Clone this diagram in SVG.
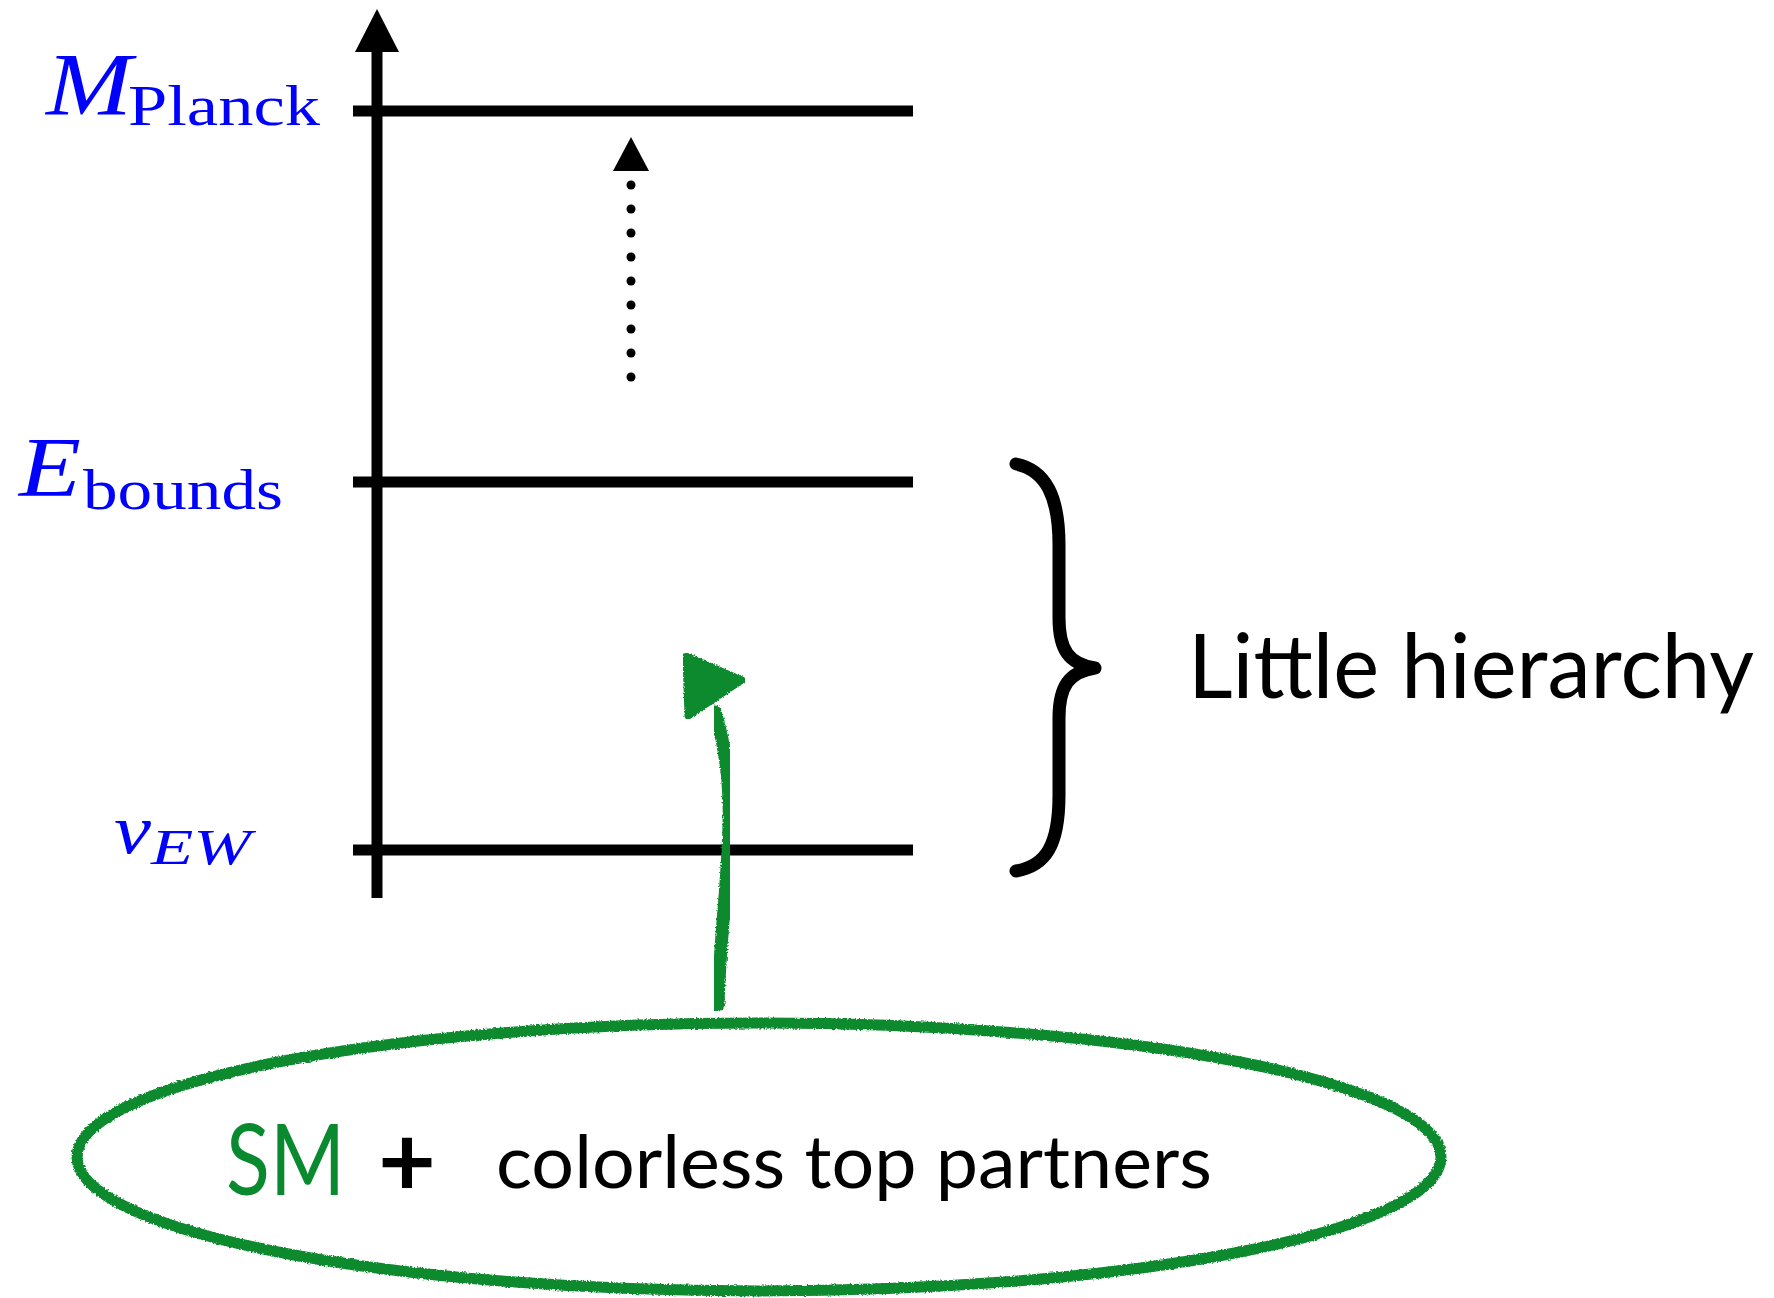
<svg xmlns="http://www.w3.org/2000/svg" width="1774" height="1298" viewBox="0 0 1774 1298">
  <style>
    .axis { stroke: #000; stroke-width: 11; fill: none; }
    .level { stroke: #000; stroke-width: 11; fill: none; }
    .math { font-family: "Liberation Serif", "DejaVu Serif", serif; fill: #0000ff; }
    .it { font-style: italic; }
    .sans { font-family: Lato, "Open Sans", "Liberation Sans", sans-serif; }
    .chalk { stroke: #0a8a2e; fill: none; stroke-linecap: round; stroke-linejoin: round; filter: url(#rough); }
    .chalk-fill { fill: #0a8a2e; }
  </style>
  <defs>
    <!-- slightly ragged edges for the hand-drawn green strokes -->
    <filter id="rough" x="-5%" y="-5%" width="110%" height="110%">
      <feTurbulence type="fractalNoise" baseFrequency="0.55" numOctaves="2" seed="3" result="n"/>
      <feDisplacementMap in="SourceGraphic" in2="n" scale="3.5" xChannelSelector="R" yChannelSelector="G"/>
    </filter>
  </defs>

  <!-- energy axis -->
  <g id="axis">
    <line class="axis" x1="377" y1="48" x2="377" y2="898"/>
    <polygon points="377,9 399,52 355,52" fill="#000"/>
  </g>

  <!-- scale levels -->
  <g id="level-planck">
    <line class="level" x1="353" y1="111" x2="913" y2="111"/>
    <text class="math it" x="46" y="114" font-size="88" textLength="86" lengthAdjust="spacingAndGlyphs">M</text>
    <text class="math" x="128" y="125" font-size="58" textLength="192" lengthAdjust="spacingAndGlyphs">Planck</text>
  </g>
  <g id="level-bounds">
    <line class="level" x1="353" y1="482" x2="913" y2="482"/>
    <text class="math it" x="19" y="496" font-size="84" textLength="62" lengthAdjust="spacingAndGlyphs">E</text>
    <text class="math" x="83" y="509" font-size="58" textLength="200" lengthAdjust="spacingAndGlyphs">bounds</text>
  </g>
  <g id="level-ew">
    <line class="level" x1="353" y1="850" x2="913" y2="850"/>
    <text class="math it" x="114" y="853" font-size="70" textLength="37" lengthAdjust="spacingAndGlyphs">v</text>
    <text class="math it" x="151" y="864" font-size="50" textLength="100" lengthAdjust="spacingAndGlyphs">EW</text>
  </g>

  <!-- little hierarchy brace -->
  <g id="hierarchy">
    <path d="M1016,464 C1046,470 1059,497 1059,545 L1059,618 C1059,650 1069,664 1095,668 C1069,672 1059,686 1059,718 L1059,795 C1059,845 1046,866 1016,871" fill="none" stroke="#000" stroke-width="13" stroke-linecap="round" stroke-linejoin="round"/>
    <text class="sans" x="1188" y="698" font-size="90" textLength="566" lengthAdjust="spacingAndGlyphs">Little hierarchy</text>
  </g>

  <!-- model bubble -->
  <g id="model">
    <ellipse class="chalk" cx="759" cy="1157" rx="682" ry="134" stroke-width="11"/>
    <text class="sans" x="226" y="1195" font-size="98" fill="#0a8a2e" textLength="119" lengthAdjust="spacingAndGlyphs">SM</text>
    <text class="sans" x="378" y="1196" font-size="100" font-weight="bold" fill="#000">+</text>
    <text class="sans" x="496" y="1188" font-size="74" textLength="716" lengthAdjust="spacingAndGlyphs">colorless top partners</text>
  </g>

  <!-- connectors -->
  <g id="connectors">
    <!-- running up toward the Planck scale -->
    <g id="run-up" fill="#000">
      <polygon points="631,137 649,171 613,171"/>
      <circle cx="631" cy="185" r="4.5"/>
      <circle cx="631" cy="209" r="4.5"/>
      <circle cx="631" cy="233" r="4.5"/>
      <circle cx="631" cy="257" r="4.5"/>
      <circle cx="631" cy="281" r="4.5"/>
      <circle cx="631" cy="305" r="4.5"/>
      <circle cx="631" cy="329" r="4.5"/>
      <circle cx="631" cy="353" r="4.5"/>
      <circle cx="631" cy="377" r="4.5"/>
    </g>
    <!-- model pushes the bound upward -->
    <g id="push-up">
      <path class="chalk" d="M718,1005 C720,930 731,860 729,800 C728,765 723,738 715,712" stroke-width="13"/>
      <polygon class="chalk chalk-fill" points="686,656 742,680 688,716" stroke-width="7"/>
    </g>
  </g>
</svg>
